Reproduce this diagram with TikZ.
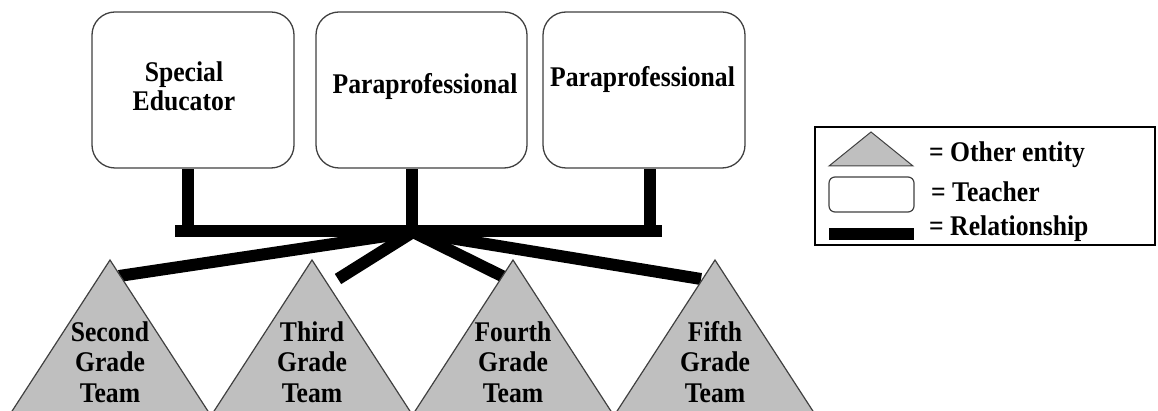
\documentclass[tikz,border=0pt]{standalone}
\usepackage{fontspec}
\setmainfont{Liberation Serif}[FakeStretch=0.9]
\begin{document}
\begin{tikzpicture}[x=1pt,y=-1pt,
  teacher/.style={draw=black!75, line width=1.3pt, rounded corners=23pt, fill=white, inner sep=0pt},
  entity/.style={draw=black!75, line width=1.2pt, fill=black!25},
  rel/.style={line width=12pt, line cap=butt, black},
  lbl/.style={font=\fontsize{28.5}{29}\selectfont\bfseries, align=center, inner sep=0pt},
  tlbl/.style={font=\fontsize{28.5}{30.5}\selectfont\bfseries, align=center, inner sep=0pt},
  leg/.style={font=\fontsize{28.5}{29}\selectfont\bfseries, anchor=west, inner sep=0pt}]
\useasboundingbox (0,0) rectangle (1158,411);
\clip (0,0) rectangle (1158,411);

% teacher boxes
\node[teacher, minimum width=202pt, minimum height=156pt] (se) at (193,90) {};
\node[teacher, minimum width=211pt, minimum height=156pt] (pp1) at (421.5,90) {};
\node[teacher, minimum width=202pt, minimum height=156pt] (pp2) at (644,90) {};
\node[lbl] (setxt) at (184,86) {Special\\Educator};
\node[lbl] (pp1txt) at (425,87) {Paraprofessional};
\node[lbl] (pp2txt) at (642.5,80) {Paraprofessional};

% relationship bar and stems
\coordinate (s1) at (188,231);
\coordinate (s2) at (412,231);
\coordinate (s3) at (650,231);
\coordinate (barL) at (175,231);
\coordinate (barR) at (662,231);
\coordinate (hub) at (413,232);
\coordinate (e1) at (119,276);
\coordinate (e2) at (338,279);
\coordinate (e3) at (504,277);
\coordinate (e4) at (701,279);

\draw[rel] (hub) -- (e1);
\draw[rel] (hub) -- (e2);
\draw[rel] (hub) -- (e3);
\draw[rel] (hub) -- (e4);
\draw[rel] ([yshift=-0.6pt]se.south -| s1) -- ([yshift=-6pt]s1);
\draw[rel] ([yshift=-0.6pt]pp1.south -| s2) -- ([yshift=-6pt]s2);
\draw[rel] ([yshift=-0.6pt]pp2.south -| s3) -- ([yshift=-6pt]s3);
\draw[rel] (barL) -- (barR);

% entity triangles
\foreach \cx/\nm in {110/t1, 312/t2, 513/t3, 715/t4}{
  \draw[entity] (\cx,260) -- (\cx+105,422) -- (\cx-105,422) -- cycle;
}
\node[tlbl] (t1txt) at (110,362) {Second\\Grade\\Team};
\node[tlbl] (t2txt) at (312,362) {Third\\Grade\\Team};
\node[tlbl] (t3txt) at (513,362) {Fourth\\Grade\\Team};
\node[tlbl] (t4txt) at (715,362) {Fifth\\Grade\\Team};

% legend
\draw[line width=1.6pt, black] (815,127) rectangle (1155,245);
\draw[entity, line width=1pt] (871,132) -- (913,166) -- (829,166) -- cycle;
\draw[draw=black!75, line width=1.2pt, rounded corners=6pt, fill=white] (829,177) rectangle (914,212);
\fill[black] (829,228) rectangle (914,240);
\node[leg] (l1) at (929,155) {= Other entity};
\node[leg] (l2) at (931,192) {= Teacher};
\node[leg] (l3) at (929,229) {= Relationship};
\end{tikzpicture}
\end{document}
